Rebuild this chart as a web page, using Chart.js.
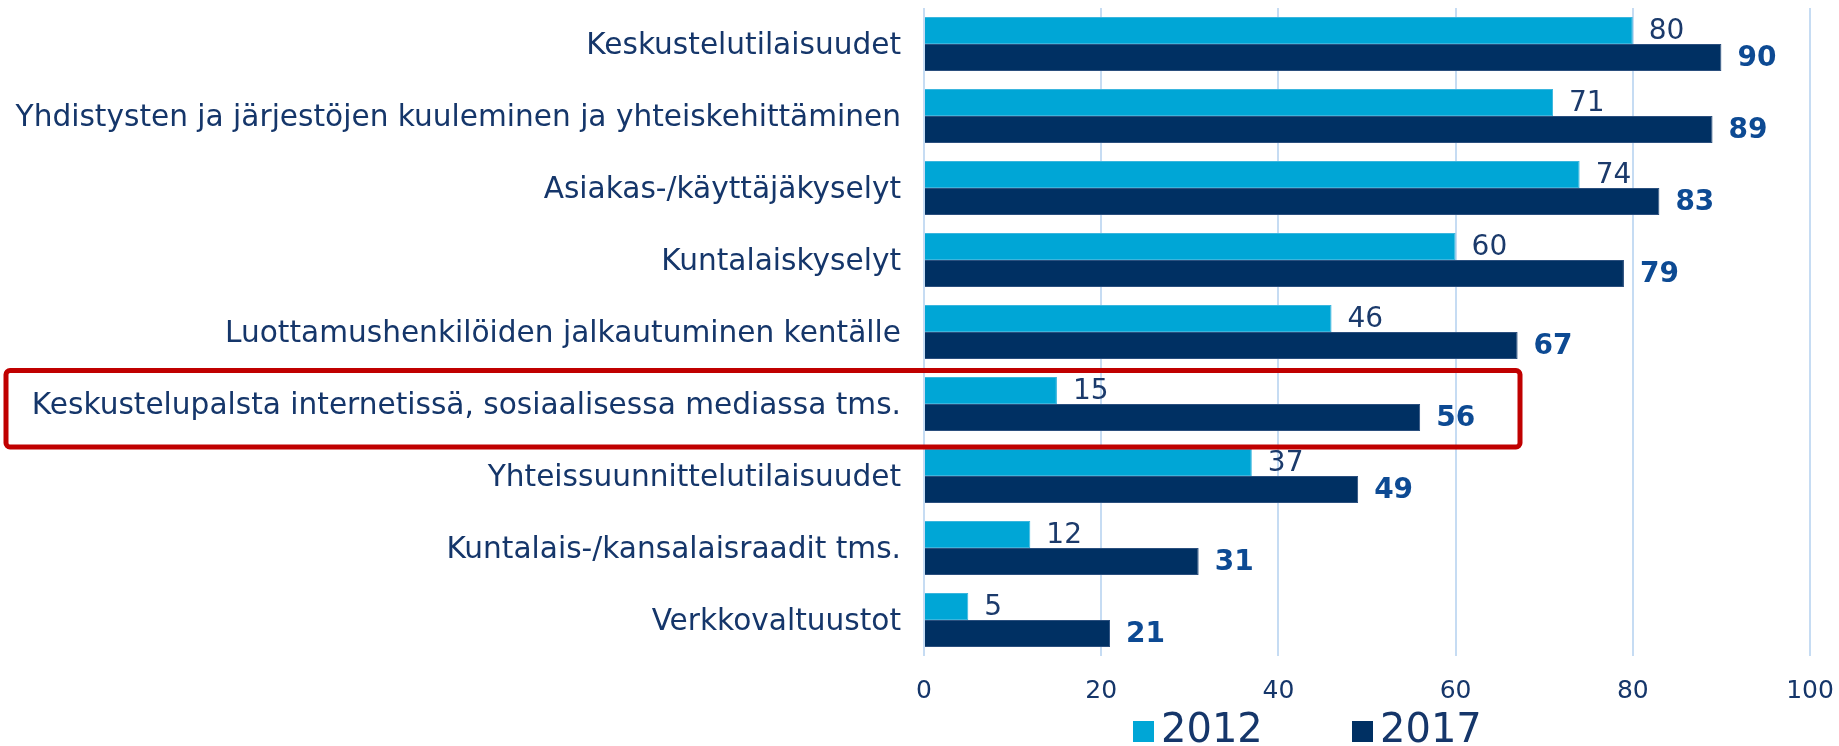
<!DOCTYPE html>
<html>
<head>
<meta charset="utf-8">
<script src="https://cdn.jsdelivr.net/npm/chart.js@4/dist/chart.umd.min.js"></script>
<style>
  html, body { margin: 0; padding: 0; background: #fff; }
  #wrap { width: 1839px; height: 746px; position: relative; }
</style>
</head>
<body>
<div id="wrap"><canvas id="chart"></canvas></div>
<script>
const categories = [
  'Keskustelutilaisuudet',
  'Yhdistysten ja järjestöjen kuuleminen ja yhteiskehittäminen',
  'Asiakas-/käyttäjäkyselyt',
  'Kuntalaiskyselyt',
  'Luottamushenkilöiden jalkautuminen kentälle',
  'Keskustelupalsta internetissä, sosiaalisessa mediassa tms.',
  'Yhteissuunnittelutilaisuudet',
  'Kuntalais-/kansalaisraadit tms.',
  'Verkkovaltuustot'
];
const values2012 = [80, 71, 74, 60, 46, 15, 37, 12, 5];
const values2017 = [90, 89, 83, 79, 67, 56, 49, 31, 21];
const seriesNames = ['2012', '2017'];
const xTicks = [0, 20, 40, 60, 80, 100];
const highlightIndex = 5;

const FONT = '"DejaVu Sans", Verdana, sans-serif';
const NAVY_TEXT = '#15366A';
const COL_2012 = '#00A6D6';
const COL_2017 = '#003063';

// value labels at the end of each bar
const valueLabels = {
  id: 'valueLabels',
  afterDatasetsDraw(chart) {
    const ctx = chart.ctx;
    ctx.save();
    ctx.textAlign = 'left';
    ctx.textBaseline = 'middle';
    chart.data.datasets.forEach((ds, di) => {
      const meta = chart.getDatasetMeta(di);
      meta.data.forEach((bar, i) => {
        if (di === 0) {
          ctx.font = '28px ' + FONT;
          ctx.fillStyle = '#1B3A6B';
        } else {
          ctx.font = 'bold 28px ' + FONT;
          ctx.fillStyle = '#0D4A93';
        }
        ctx.fillText(String(ds.data[i]), bar.x + 16, bar.y + 1);
      });
    });
    ctx.restore();
  }
};

// red frame around the highlighted category
const highlightBox = {
  id: 'highlightBox',
  afterDraw(chart) {
    const y = chart.scales.y;
    const ca = chart.chartArea;
    const band = (y.getPixelForValue(1) - y.getPixelForValue(0));
    const cy = y.getPixelForValue(highlightIndex);
    const top = cy - band / 2 + 2.5;
    const bottom = cy + band / 2 + 7;
    const left = 6;
    const right = ca.left + 596;
    const ctx = chart.ctx;
    ctx.save();
    ctx.strokeStyle = '#C00000';
    ctx.lineWidth = 5;
    ctx.beginPath();
    ctx.roundRect(left, top, right - left, bottom - top, 4);
    ctx.stroke();
    ctx.restore();
  }
};

// legend drawn below the axis
const bottomLegend = {
  id: 'bottomLegend',
  afterDraw(chart) {
    const ctx = chart.ctx;
    const cy = 730;
    const starts = [1133, 1352];
    ctx.save();
    ctx.font = '40px ' + FONT;
    ctx.textBaseline = 'middle';
    ctx.textAlign = 'left';
    chart.data.datasets.forEach((ds, i) => {
      const x = starts[i];
      ctx.fillStyle = ds.backgroundColor;
      ctx.fillRect(x, cy - 9, 21, 21);
      ctx.fillStyle = NAVY_TEXT;
      ctx.fillText(ds.label, x + 28, cy + 2);
    });
    ctx.restore();
  }
};

new Chart(document.getElementById('chart'), {
  type: 'bar',
  data: {
    labels: categories,
    datasets: [
      { label: seriesNames[0], data: values2012, backgroundColor: COL_2012,
        borderColor: '#3BB6DE', borderWidth: 1, categoryPercentage: 0.75, barPercentage: 1 },
      { label: seriesNames[1], data: values2017, backgroundColor: COL_2017,
        borderColor: '#2B4F7E', borderWidth: 1, categoryPercentage: 0.75, barPercentage: 1 }
    ]
  },
  options: {
    indexAxis: 'y',
    responsive: true,
    maintainAspectRatio: false,
    animation: false,
    layout: { padding: { top: 8, right: 29, left: 0, bottom: 0 } },
    plugins: {
      legend: { display: false },
      tooltip: { enabled: false }
    },
    scales: {
      x: {
        min: 0, max: 100,
        afterBuildTicks: (s) => { s.ticks = xTicks.map(v => ({ value: v })); },
        afterFit: (s) => { s.height = 90; s.paddingLeft = 0; s.paddingRight = 0; },
        grid: { color: '#C6DCF3', lineWidth: 2, drawTicks: false },
        border: { display: false },
        ticks: { color: NAVY_TEXT, font: { family: FONT, size: 25 }, padding: 20 }
      },
      y: {
        afterFit: (s) => { s.width = 924; s.paddingTop = 0; s.paddingBottom = 0; },
        grid: { display: false },
        border: { display: false },
        ticks: { color: NAVY_TEXT, font: { family: FONT, size: 29.6 }, padding: 15, labelOffset: 2 }
      }
    }
  },
  plugins: [valueLabels, highlightBox, bottomLegend]
});
</script>
</body>
</html>
